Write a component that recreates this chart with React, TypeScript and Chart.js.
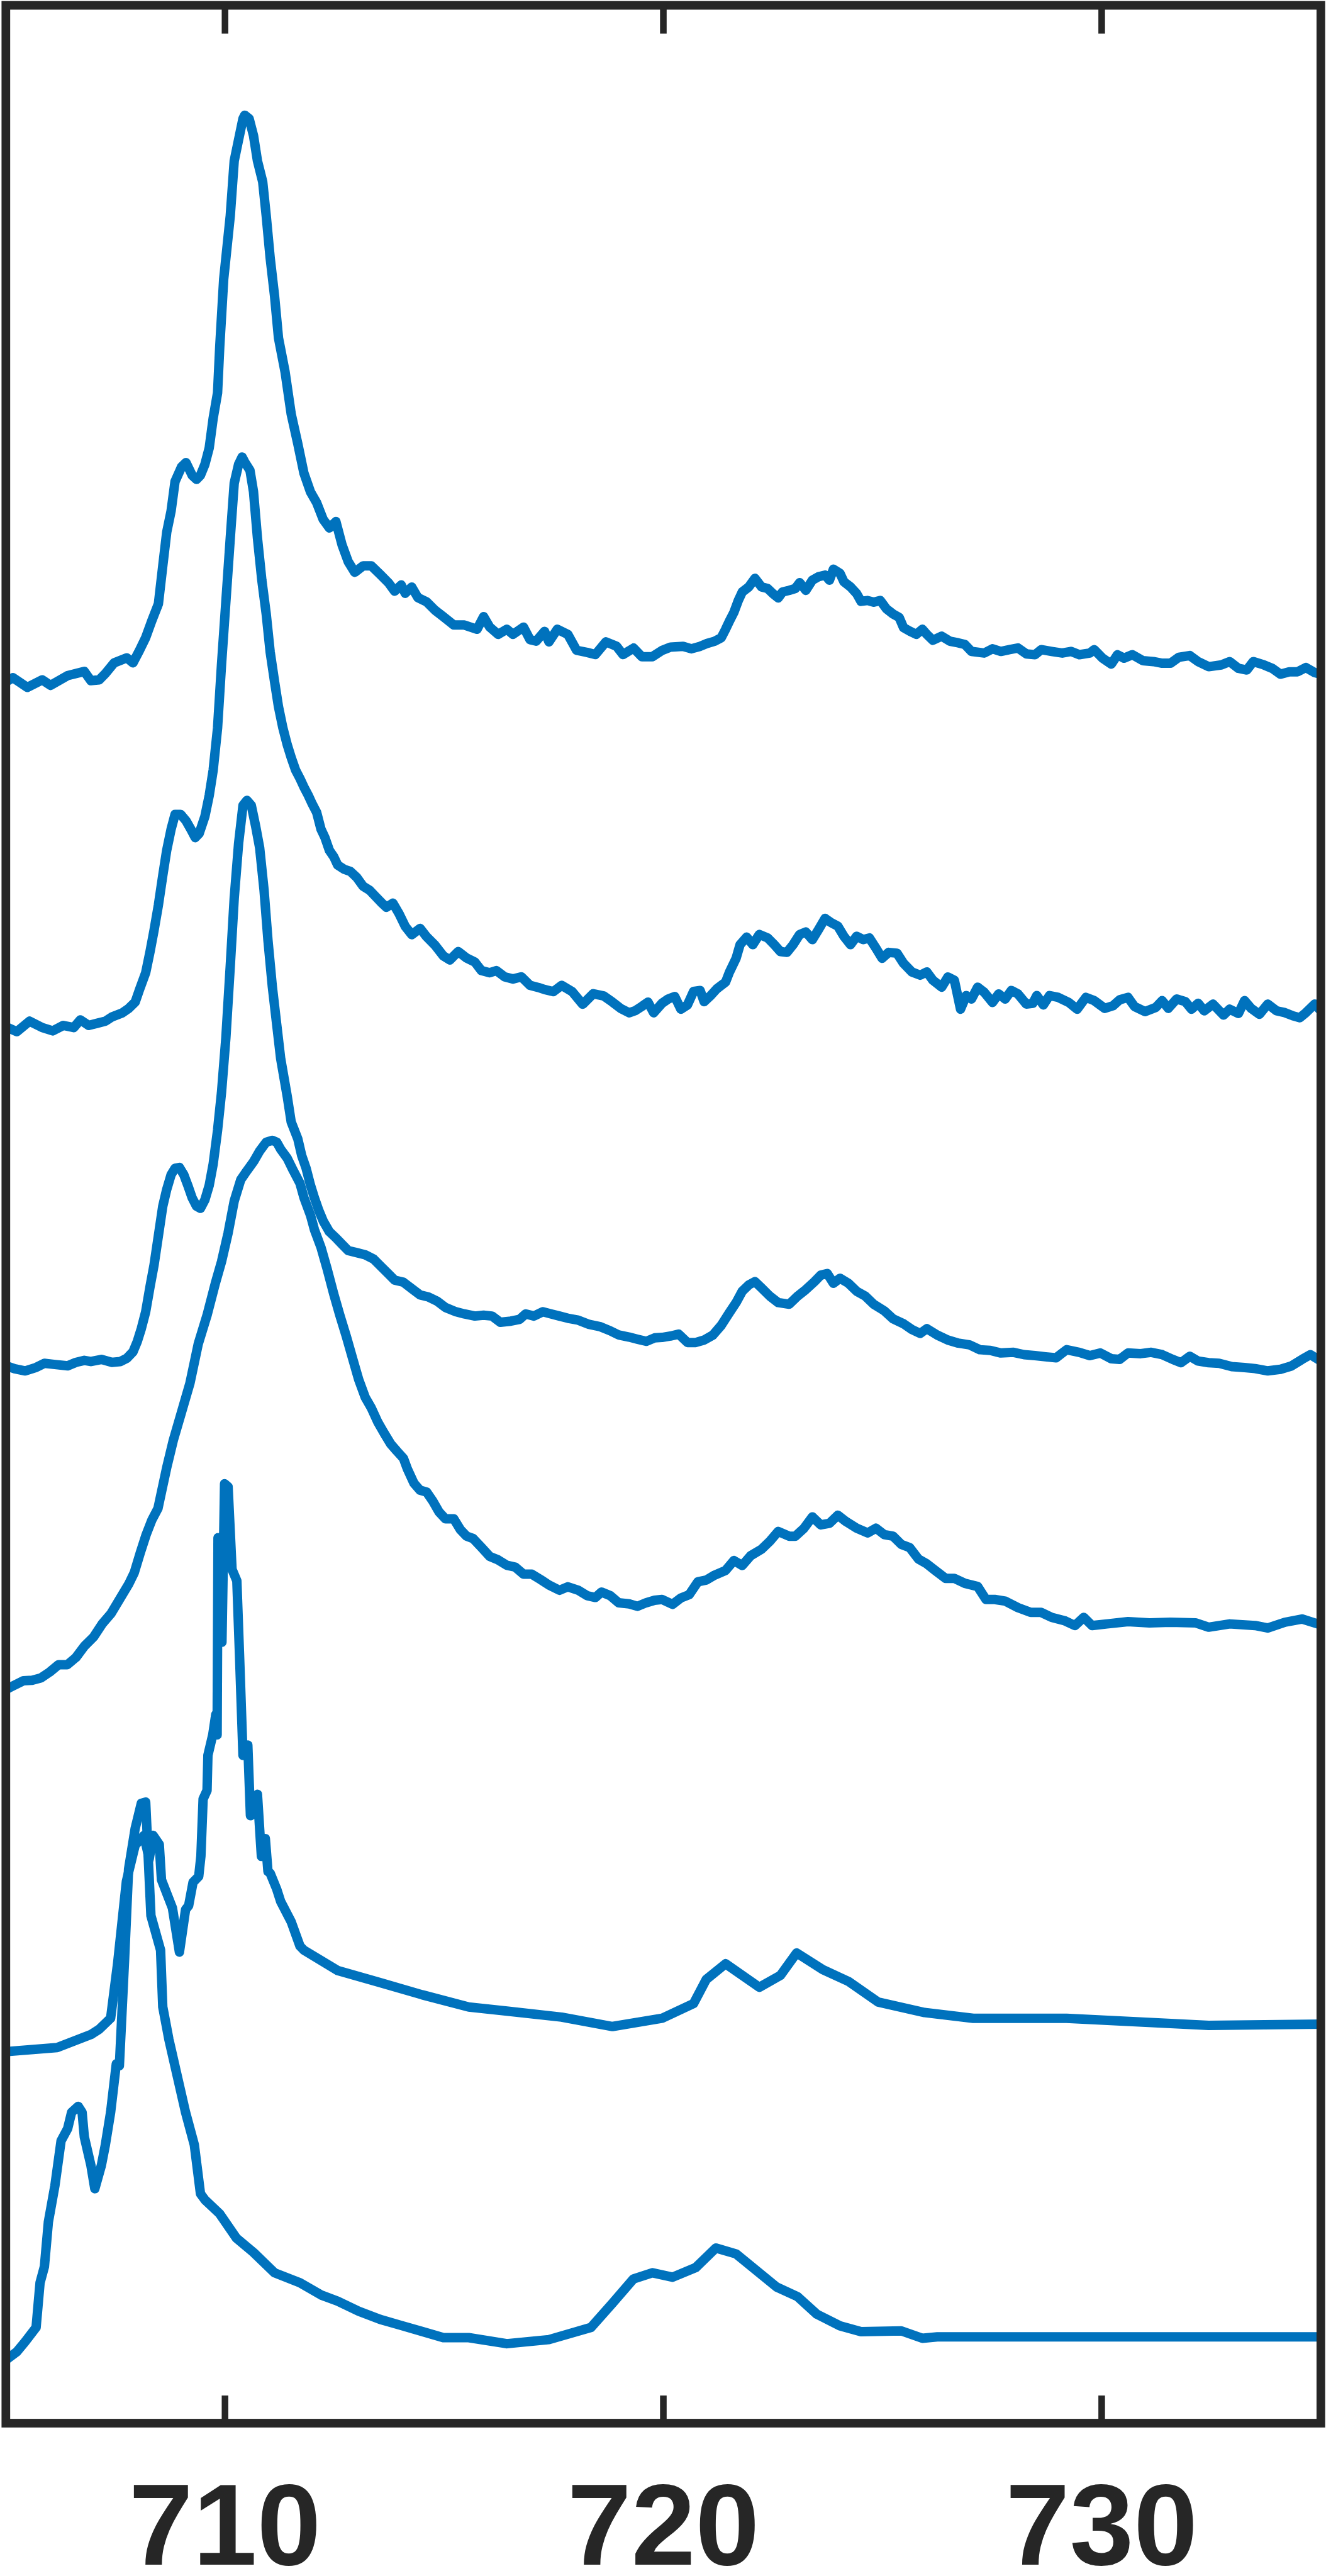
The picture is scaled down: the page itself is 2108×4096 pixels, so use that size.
import React, { useEffect, useRef } from "react";
import { Chart, registerables } from "chart.js";

Chart.register(...registerables);

// Photon energy axis (eV)
const X_MIN = 705;
const X_MAX = 735;
const xTicks = [710, 720, 730];
// Intensity axis (arbitrary units, curves are vertically offset)
const Y_MIN = 0;
const Y_MAX = 1472.6;

// Curve 1 (top)
const curve1: [number, number][] = [
  [705.0,1060.5],[705.16,1063.1],[705.49,1057.2],[705.83,1061.8],[706.02,1058.4],[706.41,1064.4],[706.79,1066.9],[706.94,1061.3],[707.13,1061.8],[707.27,1065.6],[707.47,1072.1],[707.76,1075.2],[707.9,1072.1],[708.05,1079.8],[708.19,1087.5],[708.33,1097.8],[708.48,1108.0],[708.58,1131.2],[708.67,1151.7],[708.77,1164.6],[708.86,1182.6],[709.01,1191.6],[709.11,1194.1],[709.25,1186.4],[709.35,1183.9],[709.44,1186.4],[709.54,1192.9],[709.64,1203.1],[709.73,1221.1],[709.83,1236.6],[709.88,1264.8],[709.97,1305.9],[710.12,1344.5],[710.21,1377.9],[710.31,1390.8],[710.41,1403.6],[710.45,1405.7],[710.55,1403.6],[710.65,1393.3],[710.74,1377.9],[710.86,1365.1],[710.94,1344.5],[711.03,1318.8],[711.13,1295.7],[711.22,1270.0],[711.37,1249.4],[711.51,1223.7],[711.66,1205.7],[711.8,1187.7],[711.95,1176.2],[712.09,1169.7],[712.24,1159.5],[712.38,1154.3],[712.53,1158.2],[712.67,1144.0],[712.81,1133.8],[712.96,1127.3],[713.15,1131.2],[713.34,1131.2],[713.54,1126.0],[713.73,1120.9],[713.87,1115.8],[714.02,1119.6],[714.11,1114.5],[714.26,1118.3],[714.4,1111.9],[714.6,1109.3],[714.79,1104.2],[714.98,1100.3],[715.22,1095.2],[715.46,1095.2],[715.75,1092.6],[715.9,1100.3],[716.04,1093.9],[716.23,1089.5],[716.43,1092.6],[716.57,1089.5],[716.81,1093.9],[716.96,1086.2],[717.1,1085.4],[717.29,1091.3],[717.39,1084.9],[717.58,1092.6],[717.82,1089.5],[718.02,1079.8],[718.26,1078.5],[718.45,1077.2],[718.69,1084.9],[718.93,1082.3],[719.08,1077.2],[719.32,1081.1],[719.51,1075.9],[719.75,1075.9],
  [719.97,1079.7],[720.16,1081.7],[720.45,1082.2],[720.64,1080.7],[720.84,1082.2],[720.98,1083.8],[721.17,1085.3],[721.32,1087.4],[721.42,1092.6],[721.51,1097.7],[721.61,1102.9],[721.71,1110.1],[721.8,1115.3],[721.95,1118.4],[722.09,1123.6],[722.24,1118.4],[722.38,1117.4],[722.5,1114.3],[722.62,1111.7],[722.72,1115.3],[722.87,1116.3],[723.01,1117.4],[723.11,1121.0],[723.25,1116.3],[723.4,1122.5],[723.54,1124.6],[723.69,1125.6],[723.79,1122.5],[723.88,1129.2],[724.03,1126.7],[724.12,1121.5],[724.27,1118.4],[724.41,1114.3],[724.51,1109.6],[724.66,1110.1],[724.8,1109.1],[724.95,1110.1],[725.09,1105.0],[725.24,1101.9],[725.38,1099.8],[725.48,1093.6],[725.62,1091.5],[725.77,1089.5],[725.91,1092.6],[726.01,1089.5],[726.15,1085.9],[726.35,1088.4],[726.54,1085.3],[726.73,1084.3],[726.88,1083.3],[727.03,1079.1],[727.32,1078.1],[727.51,1080.7],[727.7,1079.1],[727.9,1080.2],[728.09,1081.2],[728.28,1077.6],[728.48,1077.1],[728.62,1080.2],[728.86,1079.1],[729.1,1078.1],[729.3,1079.1],[729.49,1077.1],[729.73,1078.1],[729.83,1080.2],[730.02,1075.0],[730.22,1071.4],[730.36,1077.1],[730.51,1075.0],[730.7,1077.1],[730.94,1073.5],[731.18,1072.9],[731.38,1071.9],[731.57,1071.9],[731.76,1075.5],[732.01,1076.6],[732.2,1072.9],[732.44,1069.8],[732.73,1070.9],[732.92,1072.9],[733.12,1068.8],[733.31,1067.8],[733.46,1072.9],[733.7,1070.9],[733.89,1068.8],[734.08,1065.2],[734.28,1066.7],[734.47,1066.7],[734.66,1069.3],[734.86,1066.2],[735.0,1065.2],
];

// Curve 2
const curve2: [number, number][] = [
  [705.0,850.5],[705.25,847.5],[705.54,853.9],[705.83,850.0],[706.07,848.0],[706.31,851.3],[706.55,850.0],[706.7,854.7],[706.89,851.3],[707.08,852.6],[707.27,853.9],[707.42,856.5],[707.66,859.0],[707.8,861.6],[707.95,865.5],[708.05,873.2],[708.19,883.4],[708.29,896.3],[708.38,909.1],[708.48,924.6],[708.58,942.6],[708.67,958.0],[708.77,970.8],[708.86,979.8],[708.99,979.8],[709.11,976.0],[709.22,970.8],[709.32,965.7],[709.41,968.2],[709.54,978.5],[709.64,991.4],[709.73,1006.8],[709.83,1032.5],[709.92,1071.1],[710.02,1109.6],[710.12,1148.2],[710.21,1181.6],[710.31,1193.1],[710.39,1197.5],[710.45,1194.4],[710.57,1189.3],[710.65,1176.4],[710.74,1148.2],[710.84,1122.5],[710.94,1101.9],[711.03,1078.8],[711.13,1060.8],[711.22,1045.4],[711.32,1032.5],[711.42,1022.2],[711.51,1014.5],[711.61,1006.8],[711.71,1001.7],[711.8,996.5],[711.9,991.4],[711.99,986.2],[712.09,981.1],[712.19,970.8],[712.28,965.7],[712.38,958.0],[712.48,954.1],[712.57,949.0],[712.72,946.4],[712.86,945.1],[713.01,941.3],[713.15,936.1],[713.3,933.6],[713.44,929.7],[713.58,925.8],[713.68,923.3],[713.83,925.8],[713.97,919.4],[714.11,911.7],[714.26,906.6],[714.45,910.4],[714.6,905.3],[714.79,900.2],[714.98,893.7],[715.13,891.2],[715.32,896.3],[715.51,892.4],[715.7,889.9],[715.85,884.7],[716.04,883.4],[716.19,884.7],[716.38,880.9],[716.57,879.6],[716.76,880.9],[716.96,875.7],[717.15,874.4],[717.29,873.2],[717.49,871.9],[717.68,875.7],[717.92,871.9],[718.16,864.2],[718.4,870.6],[718.64,869.3],[718.84,865.5],[719.03,861.6],[719.22,859.0],[719.36,860.3],[719.51,862.9],[719.65,865.5],[719.78,859.0],
  [719.97,864.8],[720.11,867.4],[720.26,868.9],[720.4,861.2],[720.55,863.8],[720.69,872.0],[720.84,872.6],[720.93,865.8],[721.08,869.5],[721.22,873.6],[721.42,877.7],[721.51,883.9],[721.66,892.2],[721.75,900.5],[721.9,905.1],[722.04,900.5],[722.19,906.7],[722.38,904.6],[722.53,900.5],[722.67,896.3],[722.82,895.8],[722.96,900.5],[723.11,906.7],[723.25,908.2],[723.4,903.6],[723.54,909.7],[723.69,916.5],[723.83,913.9],[723.98,911.8],[724.12,905.6],[724.27,900.5],[724.41,905.6],[724.56,903.6],[724.7,904.6],[724.85,898.4],[724.99,892.2],[725.14,895.8],[725.33,895.3],[725.48,889.1],[725.67,883.9],[725.86,881.9],[726.01,883.9],[726.15,878.8],[726.35,874.6],[726.49,880.8],[726.64,878.8],[726.78,861.2],[726.91,869.5],[727.03,867.4],[727.17,874.6],[727.32,871.5],[727.51,865.3],[727.65,870.5],[727.8,867.4],[727.94,872.6],[728.09,870.5],[728.28,864.3],[728.43,864.8],[728.52,869.5],[728.67,863.8],[728.81,869.5],[729.01,868.4],[729.25,865.3],[729.44,861.2],[729.64,868.4],[729.83,866.4],[730.07,861.7],[730.26,863.3],[730.41,866.9],[730.6,868.4],[730.75,862.8],[730.99,859.7],[731.23,862.2],[731.38,866.4],[731.52,861.7],[731.71,867.4],[731.91,865.8],[732.05,861.2],[732.2,864.8],[732.34,860.2],[732.54,864.3],[732.78,857.6],[732.92,861.2],[733.12,858.6],[733.26,866.4],[733.41,861.7],[733.6,858.1],[733.79,864.3],[733.99,860.2],[734.18,859.1],[734.37,857.1],[734.52,856.0],[734.66,859.1],[734.86,864.3],[735.0,860.2],
];

// Curve 3
const curve3: [number, number][] = [
  [705.0,644.0],[705.2,642.2],[705.44,640.9],[705.69,643.0],[705.88,645.5],[706.12,644.8],[706.41,644.0],[706.6,646.1],[706.79,647.3],[706.94,646.6],[707.18,647.9],[707.42,646.1],[707.61,646.6],[707.76,648.6],[707.9,652.5],[708.0,658.9],[708.09,666.6],[708.19,676.9],[708.29,692.3],[708.38,705.2],[708.48,723.2],[708.58,741.2],[708.67,751.4],[708.77,760.4],[708.86,764.3],[708.96,764.8],[709.06,760.4],[709.15,754.0],[709.25,746.3],[709.35,741.2],[709.44,739.9],[709.54,745.0],[709.64,754.0],[709.73,766.9],[709.83,787.4],[709.92,810.5],[710.02,843.9],[710.12,887.6],[710.21,928.8],[710.31,962.2],[710.41,985.3],[710.5,988.4],[710.6,985.3],[710.7,972.5],[710.79,959.6],[710.89,933.9],[710.98,903.1],[711.08,874.8],[711.18,851.7],[711.27,831.1],[711.42,808.0],[711.51,792.5],[711.66,782.3],[711.75,772.0],[711.85,764.3],[711.95,754.0],[712.04,746.3],[712.14,738.6],[712.24,732.2],[712.38,725.7],[712.53,721.9],[712.67,718.0],[712.81,714.2],[713.01,712.9],[713.2,711.6],[713.39,709.0],[713.58,703.9],[713.73,700.0],[713.87,696.2],[714.07,694.9],[714.26,691.0],[714.45,687.2],[714.64,685.9],[714.84,683.3],[715.03,679.5],[715.27,676.9],[715.46,675.6],[715.7,674.3],[715.9,674.8],[716.09,674.3],[716.28,670.5],[716.52,671.2],[716.72,672.3],[716.86,675.6],[717.05,674.3],[717.25,676.9],[717.44,675.6],[717.63,674.3],[717.82,673.0],[718.06,671.8],[718.31,669.2],[718.55,667.9],[718.79,665.3],[718.98,662.8],[719.22,661.5],[719.41,660.2],[719.61,658.9],[719.8,661.0],
  [719.97,661.3],[720.16,662.1],[720.35,663.3],[720.55,658.2],[720.74,658.2],[720.93,659.7],[721.13,662.7],[721.32,668.6],[721.51,676.5],[721.66,682.5],[721.8,689.4],[721.95,693.3],[722.09,695.3],[722.24,691.4],[722.43,686.4],[722.62,682.5],[722.87,681.5],[723.06,686.4],[723.25,690.4],[723.45,695.3],[723.59,699.2],[723.74,700.2],[723.88,694.3],[724.03,697.3],[724.22,694.3],[724.41,689.4],[724.61,686.4],[724.8,681.5],[725.04,677.5],[725.24,672.6],[725.48,669.6],[725.67,666.1],[725.86,663.7],[726.01,666.6],[726.25,662.7],[726.49,659.7],[726.73,657.8],[726.98,656.8],[727.22,653.8],[727.46,653.4],[727.7,651.8],[727.99,652.2],[728.23,650.8],[728.48,650.2],[728.72,649.5],[728.96,648.9],[729.2,653.8],[729.49,652.2],[729.73,650.2],[729.97,651.8],[730.22,648.3],[730.41,647.9],[730.6,651.8],[730.89,651.4],[731.13,652.2],[731.38,650.8],[731.62,647.9],[731.81,645.9],[732.01,649.8],[732.2,646.9],[732.44,645.9],[732.68,645.5],[732.97,643.5],[733.26,642.9],[733.5,642.3],[733.79,640.9],[734.08,641.9],[734.33,643.9],[734.57,647.9],[734.76,650.8],[735.0,646.9],
];

// Curve 4 (broad peak)
const curve4: [number, number][] = [
  [705.0,446.8],[705.13,448.6],[705.4,452.2],[705.6,452.5],[705.8,453.9],[706.0,457.5],[706.2,461.9],[706.4,461.9],[706.6,466.4],[706.8,473.5],[707.0,478.8],[707.2,486.9],[707.4,493.1],[707.6,502.0],[707.8,510.9],[707.93,518.0],[708.07,530.4],[708.2,541.1],[708.33,550.0],[708.47,557.1],[708.57,569.6],[708.67,582.0],
  [708.82,598.6],[709.01,616.0],[709.2,633.4],[709.39,657.4],[709.59,674.8],[709.78,694.3],[709.92,707.4],[710.07,724.8],[710.21,744.4],[710.36,757.4],[710.5,762.8],[710.65,768.3],[710.79,774.8],[710.94,780.2],[711.08,781.3],[711.18,780.2],[711.27,775.9],[711.42,770.4],[711.56,762.8],[711.71,755.2],[711.8,746.5],[711.95,735.7],[712.04,726.9],[712.19,716.1],[712.33,703.0],[712.48,687.8],[712.62,674.8],[712.77,661.7],[712.91,648.6],[713.05,635.6],[713.2,624.7],[713.34,618.2],[713.49,609.5],[713.63,603.0],[713.78,596.4],[713.92,592.1],[714.07,587.7],[714.16,581.2],[714.31,572.5],[714.45,568.2],[714.6,567.1],[714.74,561.6],[714.88,555.1],[715.03,550.8],[715.22,550.8],[715.37,544.2],[715.51,540.3],[715.66,538.8],[715.85,533.4],[716.04,527.9],[716.23,525.8],[716.43,522.5],[716.62,521.4],[716.81,517.1],[717.0,517.1],[717.2,513.8],[717.39,510.5],[717.63,507.3],[717.82,509.4],[718.06,507.3],[718.26,504.0],[718.45,502.9],[718.59,506.2],[718.79,504.0],[718.98,499.7],[719.22,499.0],[719.41,497.5],[719.61,499.7],[719.8,501.2],
  [719.97,501.7],[720.21,498.7],[720.4,502.6],[720.59,504.6],[720.79,512.5],[720.98,513.5],[721.17,516.5],[721.42,519.4],[721.61,525.4],[721.8,522.4],[721.99,528.3],[722.24,532.3],[722.43,537.2],[722.62,543.1],[722.87,540.2],[723.01,540.2],[723.21,545.1],[723.4,552.0],[723.59,547.1],[723.79,548.1],[723.98,553.0],[724.17,549.1],[724.41,545.1],[724.66,542.2],[724.85,545.1],[725.04,541.2],[725.24,540.2],[725.43,535.2],[725.62,533.3],[725.82,526.3],[726.01,523.4],[726.2,519.4],[726.44,514.5],[726.64,514.5],[726.88,511.5],[727.17,509.6],[727.36,501.7],[727.56,501.7],[727.8,500.7],[728.09,496.7],[728.38,493.8],[728.62,493.8],[728.86,490.8],[729.15,488.8],[729.39,485.8],[729.59,490.8],[729.78,485.8],[730.12,486.8],[730.6,488.2],[731.09,487.4],[731.57,487.8],[732.15,487.4],[732.44,484.8],[732.92,486.8],[733.5,485.8],[733.79,484.3],[734.18,487.8],[734.57,489.8],[734.86,487.4],[735.0,486.2],
];

// Curve 5 (sparse sampling)
const curve5: [number, number][] = [
  [705.0,226.3],[706.17,228.8],[706.94,236.7],[707.13,239.9],[707.39,246.6],[707.55,280.0],[707.75,330.0],[707.95,352.0],[708.15,358.0],[708.27,343.6],[708.36,358.0],[708.5,352.5],[708.55,331.0],[708.8,313.8],[708.96,286.9],[709.1,312.8],[709.17,315.2],[709.27,329.4],[709.4,333.0],[709.45,345.4],[709.5,380.1],[709.59,385.4],[709.61,406.8],[709.72,419.2],[709.79,431.7],[709.82,419.2],[709.84,539.3],[709.93,475.6],[709.99,572.2],[710.07,570.4],[710.16,520.0],[710.27,513.0],[710.33,468.6],[710.41,406.7],[710.52,413.0],[710.58,370.0],[710.74,383.0],[710.83,345.2],[710.92,356.0],[710.98,336.0],[711.03,335.0],[711.18,325.2],[711.27,317.7],[711.51,305.4],[711.71,290.6],[711.8,288.1],[712.57,275.7],[713.54,268.3],[714.5,260.9],[715.56,253.5],[716.43,251.0],[717.68,247.3],[718.84,241.6],[719.97,246.6],
  [720.69,255.6],[720.98,270.3],[721.42,279.8],[722.19,265.5],[722.67,272.7],[723.04,286.4],[723.64,276.2],[724.22,269.1],[724.9,256.5],[725.96,250.1],[727.07,246.6],[729.2,246.6],[732.44,242.3],[735.0,243.0],
];

// Curve 6 (bottom, sparse sampling)
const curve6: [number, number][] = [
  [705.0,38.5],[705.25,43.5],[705.44,49.6],[705.69,58.3],[705.78,85.5],[705.88,95.4],[705.97,122.5],[706.12,144.8],[706.26,172.0],[706.41,179.4],[706.5,189.3],[706.65,193.0],[706.74,189.3],[706.79,174.4],[706.94,157.1],[707.03,142.8],[707.18,157.1],[707.27,169.5],[707.39,189.3],[707.52,218.9],[707.59,217.7],[707.71,283.2],[707.8,337.5],[707.95,362.2],[708.09,377.5],[708.19,378.3],[708.31,309.1],[708.53,288.1],[708.58,253.5],[708.72,233.7],[708.91,211.5],[709.1,189.3],[709.3,169.5],[709.44,139.8],[709.54,136.1],[709.88,127.5],[710.26,112.7],[710.65,104.0],[711.13,91.6],[711.71,85.5],[712.19,78.1],[712.57,74.3],[713.05,68.2],[713.54,63.2],[714.02,59.5],[714.5,55.8],[714.98,52.1],[715.56,52.1],[716.43,48.4],[717.39,50.9],[718.35,58.3],[718.84,73.1],[719.32,87.9],[719.75,91.6],
  [720.21,88.9],[720.74,94.8],[721.2,106.7],[721.66,103.1],[722.58,83.0],[723.06,77.1],[723.5,66.4],[724.03,59.3],[724.51,55.7],[725.43,56.2],[725.91,51.7],[726.25,52.6],[735.0,52.6],
];

const curves = [curve1, curve2, curve3, curve4, curve5, curve6];

const LINE_COLOR = "#0072BD";
const AXIS_COLOR = "#262626";

export default function App() {
  const ref = useRef<HTMLCanvasElement>(null);

  useEffect(() => {
    document.body.style.margin = "0";
    const canvas = ref.current;
    if (!canvas) return;

    const framePlugin = {
      id: "frame",
      afterDatasetsDraw(chart: any) {
        const { ctx, chartArea: a, scales } = chart;
        ctx.save();
        ctx.strokeStyle = AXIS_COLOR;
        ctx.lineWidth = 13.75;
        ctx.lineJoin = "miter";
        ctx.strokeRect(a.left, a.top, a.right - a.left, a.bottom - a.top);
        ctx.fillStyle = AXIS_COLOR;
        const tw = 10.5;
        for (const t of scales.x.ticks) {
          const px = scales.x.getPixelForValue(t.value);
          ctx.fillRect(px - tw / 2, a.bottom - 44, tw, 44);
          ctx.fillRect(px - tw / 2, a.top, tw, 45);
        }
        ctx.restore();
      },
    };

    const chart = new Chart(canvas, {
      type: "line",
      data: {
        datasets: curves.map((c, i) => ({
          label: `spectrum ${i + 1}`,
          data: c.map(([x, y]) => ({ x, y })),
          borderColor: LINE_COLOR,
          borderWidth: 15,
          pointRadius: 0,
          tension: 0,
          fill: false,
          borderJoinStyle: "round" as const,
          borderCapStyle: "butt" as const,
        })),
      },
      options: {
        responsive: false,
        animation: false,
        devicePixelRatio: 1,
        layout: { padding: { left: 9.3, right: 8.2, top: 8.5, bottom: 0 } },
        plugins: { legend: { display: false }, tooltip: { enabled: false } },
        scales: {
          x: {
            type: "linear",
            min: X_MIN,
            max: X_MAX,
            afterBuildTicks: (axis: any) => {
              axis.ticks = xTicks.map((v) => ({ value: v }));
            },
            afterFit: (axis: any) => {
              axis.height = 243;
            },
            grid: { display: false, drawTicks: false, tickLength: 0 },
            border: { display: false },
            ticks: {
              autoSkip: false,
              maxRotation: 0,
              minRotation: 0,
              padding: 65,
              color: AXIS_COLOR,
              font: { family: '"Liberation Sans", Arial, Helvetica, sans-serif', size: 183, weight: "bold" },
              callback: (v: any) => String(v),
            },
          },
          y: { type: "linear", min: Y_MIN, max: Y_MAX, display: false },
        },
      },
      plugins: [framePlugin],
    });

    return () => chart.destroy();
  }, []);

  return (
    <div style={{ position: "absolute", left: 0, top: 0, width: 2108, height: 4096, background: "#ffffff" }}>
      <canvas ref={ref} width={2108} height={4096} style={{ display: "block", width: 2108, height: 4096 }} />
    </div>
  );
}
